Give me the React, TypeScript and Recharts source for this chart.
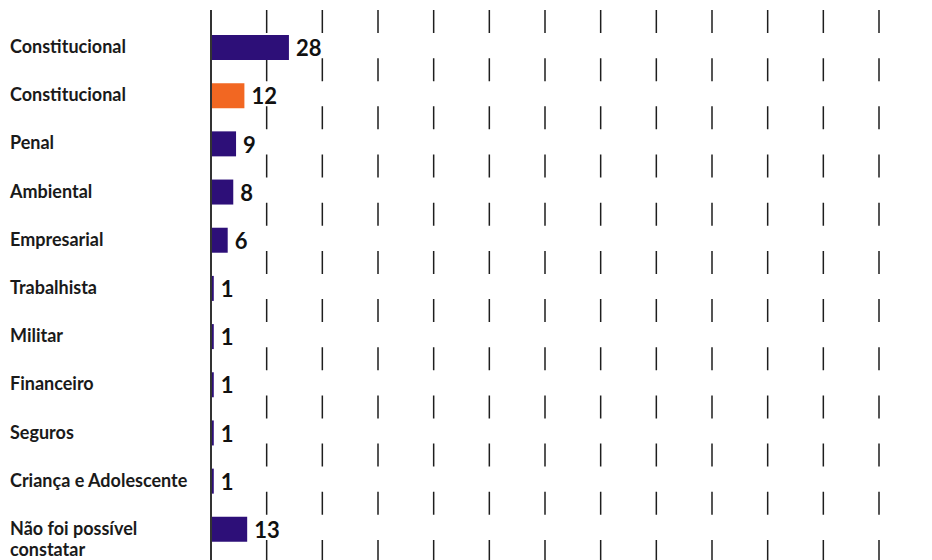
import React from 'react';
import { BarChart, Bar, XAxis, YAxis, CartesianGrid, Cell, LabelList } from 'recharts';

const categories = [
  'Constitucional',
  'Constitucional',
  'Penal',
  'Ambiental',
  'Empresarial',
  'Trabalhista',
  'Militar',
  'Financeiro',
  'Seguros',
  'Criança e Adolescente',
  'Não foi possível constatar',
];
const counts = [28, 12, 9, 8, 6, 1, 1, 1, 1, 1, 13];
const xTicks = [0, 20, 40, 60, 80, 100, 120, 140, 160, 180, 200, 220, 240];
const highlighted = 1;

const PURPLE = '#2d0f78';
const ORANGE = '#f26722';
const FONT = 'Lato, "Open Sans", sans-serif';

const data = categories.map((name, i) => ({ name, value: counts[i] }));

const wrap = (s: string, max = 22) => {
  const lines: string[] = [];
  let cur = '';
  s.split(' ').forEach((w) => {
    const next = cur ? cur + ' ' + w : w;
    if (next.length > max && cur) {
      lines.push(cur);
      cur = w;
    } else {
      cur = next;
    }
  });
  if (cur) lines.push(cur);
  return lines;
};

const CategoryTick = (props: any) => {
  const { y, payload } = props;
  const lines = wrap(String(payload.value));
  return (
    <text x={10} y={y} fontFamily={FONT} fontWeight={700} fontSize={18} fill="#1a1a1a" textAnchor="start">
      {lines.map((l, i) => (
        <tspan key={i} x={10} dy={i === 0 ? 6 : 21}>
          {l}
        </tspan>
      ))}
    </text>
  );
};

const ValueLabel = (props: any) => {
  const { x, y, width, height, value } = props;
  return (
    <text
      x={x + width + 7}
      y={y + height / 2 + 3}
      dominantBaseline="middle"
      fontFamily={FONT}
      fontWeight={700}
      fontSize={22}
      fill="#111"
    >
      {value}
    </text>
  );
};

export default function App() {
  return (
    <div style={{ position: 'absolute', top: 0, left: 0, width: 932, height: 560, background: '#fff' }}>
      <BarChart
        width={932}
        height={560}
        data={data}
        layout="vertical"
        margin={{ top: 10, right: 53, bottom: 0, left: 0 }}
      >
        <CartesianGrid
          horizontal={false}
          vertical={true}
          stroke="#1e1e1e"
          strokeWidth={1.5}
          strokeDasharray="23 25.18"
        />
        <XAxis type="number" domain={[0, 240]} ticks={xTicks} hide />
        <YAxis
          type="category"
          dataKey="name"
          width={211}
          padding={{ top: 13, bottom: 7 }}
          axisLine={{ stroke: '#333', strokeWidth: 2 }}
          tickLine={false}
          tick={<CategoryTick />}
          interval={0}
        />
        <Bar dataKey="value" barSize={25} isAnimationActive={false}>
          {data.map((_, i) => (
            <Cell key={i} fill={i === highlighted ? ORANGE : PURPLE} />
          ))}
          <LabelList dataKey="value" content={<ValueLabel />} />
        </Bar>
      </BarChart>
    </div>
  );
}
